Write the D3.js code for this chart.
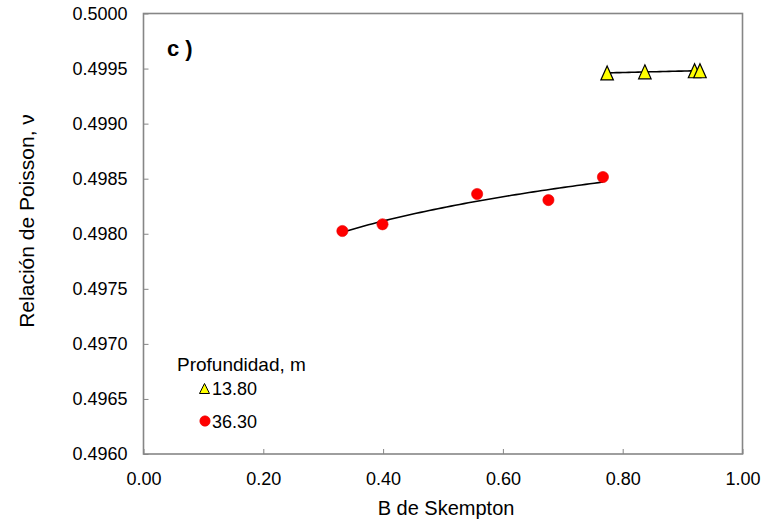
<!DOCTYPE html>
<html>
<head>
<meta charset="utf-8">
<script src="https://cdn.jsdelivr.net/npm/d3@7"></script>
<style>
  html, body { margin: 0; padding: 0; background: #fff; }
  svg { display: block; font-family: "Liberation Sans", Arial, sans-serif; }
</style>
</head>
<body>
<svg id="chart" width="772" height="523"></svg>
<script>
// Skempton B vs Poisson ratio, two depths
const depthLabels = ["13.80", "36.30"];
const bSkempton13 = [0.774, 0.837, 0.920, 0.929];
const poisson13   = [0.49946, 0.49947, 0.49948, 0.49948];
const bSkempton36 = [0.332, 0.399, 0.557, 0.676, 0.767];
const poisson36   = [0.498025, 0.498086, 0.498361, 0.498306, 0.498515];
const xTicks = [0, 0.2, 0.4, 0.6, 0.8, 1.0];
const yTicks = [0.4960, 0.4965, 0.4970, 0.4975, 0.4980, 0.4985, 0.4990, 0.4995, 0.5000];

const W = 772, H = 523;
const plot = { left: 143.5, right: 742.5, top: 13.5, bottom: 454 };
const frameColor = "#868686";

const svg = d3.select("#chart");

const x = d3.scaleLinear().domain([0, 1]).range([plot.left, plot.right]);
const y = d3.scaleLinear().domain([0.4960, 0.5000]).range([plot.bottom, plot.top]);

// Logarithmic least-squares trendline: y = a*ln(x) + b
function logFit(xs, ys) {
  const lx = xs.map(Math.log);
  const mx = d3.mean(lx), my = d3.mean(ys);
  let sxy = 0, sxx = 0;
  lx.forEach((v, i) => { sxy += (v - mx) * (ys[i] - my); sxx += (v - mx) * (v - mx); });
  const a = sxy / sxx, b = my - a * mx;
  return v => a * Math.log(v) + b;
}
function trendPoints(xs, ys, n) {
  const f = logFit(xs, ys);
  const [x0, x1] = d3.extent(xs);
  return d3.range(n + 1).map(i => { const v = x0 + (x1 - x0) * i / n; return [v, f(v)]; });
}

// Axes with inward ticks
const xAxis = d3.axisBottom(x).tickValues(xTicks).tickFormat(d3.format(".2f"))
  .tickSizeInner(-5).tickSizeOuter(0).tickPadding(18);
const yAxis = d3.axisLeft(y).tickValues(yTicks).tickFormat(d3.format(".4f"))
  .tickSizeInner(-5).tickSizeOuter(0).tickPadding(16);

const gx = svg.append("g").attr("transform", `translate(0,${plot.bottom})`).call(xAxis);
const gy = svg.append("g").attr("transform", `translate(${plot.left},0)`).call(yAxis);
[gx, gy].forEach(g => {
  g.select(".domain").remove();
  g.selectAll(".tick line").attr("stroke", frameColor).attr("stroke-width", 1);
  g.selectAll(".tick text").attr("fill", "#000").style("font-size", "18px")
    .style("font-family", "\"Liberation Sans\", Arial, sans-serif");
});

// Plot frame
svg.append("rect")
  .attr("x", plot.left).attr("y", plot.top)
  .attr("width", plot.right - plot.left).attr("height", plot.bottom - plot.top)
  .attr("fill", "none").attr("stroke", frameColor).attr("stroke-width", 1.6);

// Trendlines
const line = d3.line().x(d => x(d[0])).y(d => y(d[1]));
svg.append("path").datum(trendPoints(bSkempton36, poisson36, 60))
  .attr("d", line).attr("fill", "none").attr("stroke", "#000").attr("stroke-width", 1.6);
svg.append("path").datum(trendPoints(bSkempton13, poisson13, 30))
  .attr("d", line).attr("fill", "none").attr("stroke", "#000").attr("stroke-width", 1.6);

// Triangle marker centered on its bounding box
function tri(w, h) {
  return `M0,${-h / 2}L${w / 2},${h / 2}L${-w / 2},${h / 2}Z`;
}

// 36.30 m series: red circles
svg.append("g").selectAll("circle")
  .data(bSkempton36.map((b, i) => [b, poisson36[i]]))
  .join("circle")
  .attr("cx", d => x(d[0])).attr("cy", d => y(d[1])).attr("r", 5.6)
  .attr("fill", "#ff0000").attr("stroke", "#e80000").attr("stroke-width", 0.6);

// 13.80 m series: yellow triangles
svg.append("g").selectAll("path")
  .data(bSkempton13.map((b, i) => [b, poisson13[i]]))
  .join("path")
  .attr("transform", d => `translate(${x(d[0])},${y(d[1])})`)
  .attr("d", tri(12.5, 14))
  .attr("fill", "#ffff00").attr("stroke", "#000").attr("stroke-width", 1.2)
  .attr("stroke-linejoin", "miter");

// Panel tag
svg.append("text").attr("x", 167).attr("y", 56)
  .style("font-size", "22px").style("font-weight", "bold").text("c )");

// Axis titles
svg.append("text").attr("x", 446).attr("y", 515).attr("text-anchor", "middle")
  .style("font-size", "20px").text("B de Skempton");
svg.append("text").attr("transform", "translate(34,221) rotate(-90)")
  .attr("text-anchor", "middle").style("font-size", "21px")
  .text("Relación de Poisson, ν");

// Legend
const lg = svg.append("g");
lg.append("text").attr("x", 177).attr("y", 371).style("font-size", "19px").text("Profundidad, m");
lg.append("path").attr("transform", "translate(204.5,388.5)").attr("d", tri(10, 10))
  .attr("fill", "#ffff00").attr("stroke", "#000").attr("stroke-width", 1);
lg.append("text").attr("x", 212).attr("y", 395).style("font-size", "18px").text(depthLabels[0]);
lg.append("circle").attr("cx", 205).attr("cy", 421).attr("r", 5.2)
  .attr("fill", "#ff0000").attr("stroke", "#e80000").attr("stroke-width", 0.6);
lg.append("text").attr("x", 212).attr("y", 427.5).style("font-size", "18px").text(depthLabels[1]);
</script>
</body>
</html>
